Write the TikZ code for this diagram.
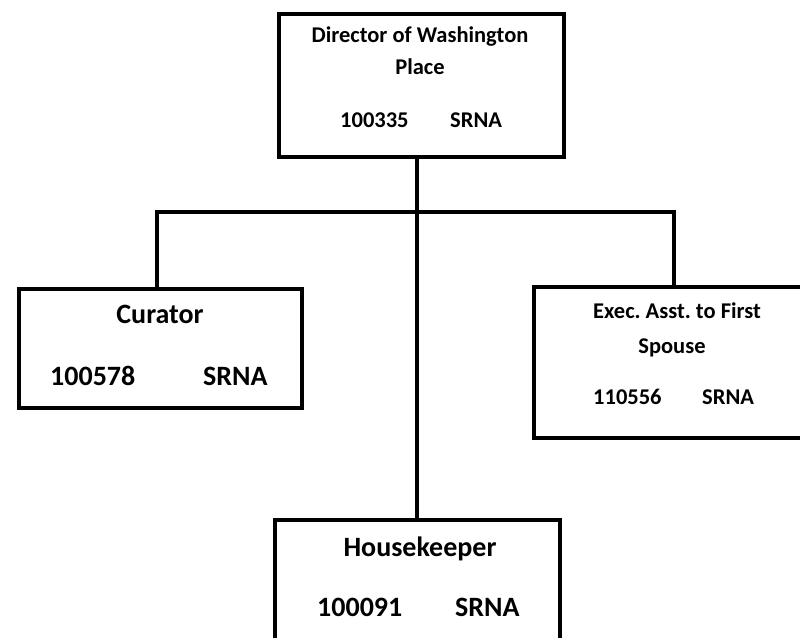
\documentclass[tikz,border=0pt]{standalone}
\usepackage{fontspec}
\setmainfont{Carlito}
\begin{document}
\frenchspacing
\begin{tikzpicture}[x=1pt,y=-1pt,
  box/.style={draw=black,line width=3.8pt,fill=white,inner sep=0pt,anchor=north west},
  conn/.style={draw=black,line width=3.8pt},
  lbl/.style={inner sep=0pt,font=\bfseries,anchor=base},
  lblw/.style={inner sep=0pt,font=\bfseries,anchor=base west},
  small/.style={font=\fontsize{22.5}{26}\selectfont\bfseries},
  big/.style={font=\fontsize{28}{32}\selectfont\bfseries}]
\useasboundingbox (0,0) rectangle (800,637);
% boxes
\node[box,minimum width=285pt,minimum height=143pt] (top) at (277,12) {};
\node[box,minimum width=283pt,minimum height=119pt] (cur) at (17,287) {};
\node[box,minimum width=275pt,minimum height=151pt] (exe) at (532,285) {};
\node[box,minimum width=285pt,minimum height=130pt] (hk) at (273,518) {};
% connectors
\coordinate (j) at (417,212);
\draw[conn] (top.south -| j) -- (hk.north -| j);
\draw[conn] (cur.north -| 157,0) |- (j) -| (exe.north -| 674,0);
% texts
\node[lbl,small] (t1) at (420,42) {Director of Washington};
\node[lbl,small] (t2) at (420,74) {Place};
\node[lblw,small] (t3) at (340,127) {100335};
\node[lblw,small] (t4) at (450,127) {SRNA};
\node[lbl,big] (c1) at (160,323) {Curator};
\node[lblw,big] (c2) at (50,385) {100578};
\node[lblw,big] (c3) at (203,385) {SRNA};
\node[lbl,small] (e1) at (677,318) {Exec. Asst. to First};
\node[lbl,small] (e2) at (672,353) {Spouse};
\node[lblw,small] (e3) at (593,404) {110556};
\node[lblw,small] (e4) at (702,404) {SRNA};
\node[lbl,big] (h1) at (420,556) {Housekeeper};
\node[lblw,big] (h2) at (317,616) {100091};
\node[lblw,big] (h3) at (455,616) {SRNA};
\end{tikzpicture}
\end{document}
